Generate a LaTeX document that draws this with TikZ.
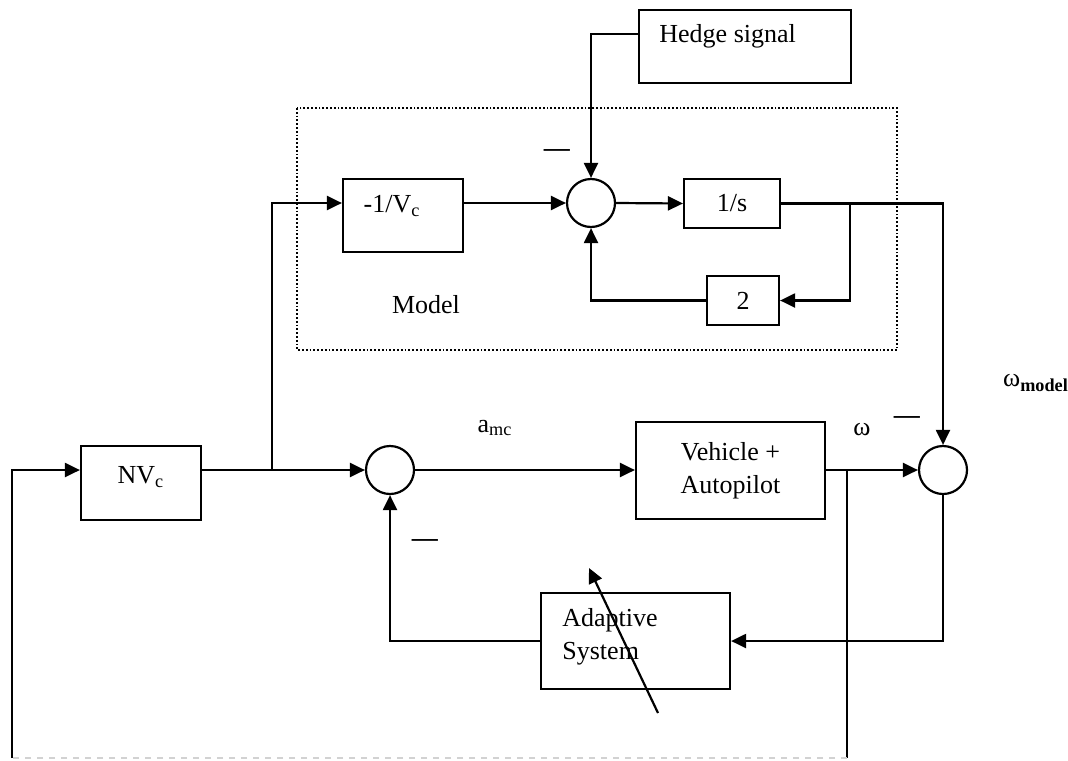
\documentclass[tikz,border=0pt]{standalone}
\usepackage{fontspec}
\setmainfont{Liberation Serif}
\usepackage{tikz}
\usetikzlibrary{arrows.meta,positioning}

\begin{document}
\begin{tikzpicture}[
  x=0.5pt, y=-0.5pt,
  every node/.style={font=\fontsize{13}{16.5}\selectfont},
  blk/.style={draw, line width=1.1pt, inner sep=0pt},
  sumnode/.style={draw, circle, line width=1.1pt, minimum size=24pt, inner sep=0pt},
  txt/.style={inner sep=0pt},
  arr/.style={-{Triangle[length=7.5pt, width=7pt]}, line width=1.1pt},
  wire/.style={line width=1.1pt}
]
\useasboundingbox (0,0) rectangle (1068,760);

% model block
\draw[densely dotted, line width=0.9pt] (297,108) rectangle (897,350);
\node[txt] (modellbl) at (426,305) {Model};

\node[blk, minimum width=106pt, minimum height=36.5pt] (hedge) at (745,46.5) {};
\node[txt, anchor=west] (hedgelbl) at (659,36) {Hedge signal};

\node[blk, minimum width=60pt, minimum height=36.5pt] (minv) at (403,215.5) {};
\node[txt] (minvlbl) at (392,206) {-1/V\textsubscript{c}};

\node[sumnode] (sum1) at (591,203) {};
\node[blk, minimum width=48pt, minimum height=24.5pt] (ints) at (732,203.5) {1/s};
\node[blk, minimum width=36pt, minimum height=24.5pt] (gain) at (743,300.5) {2};
\node[txt] (minus1) at (557,153) {\textbf{—}};

% main loop
\node[blk, minimum width=60pt, minimum height=37pt] (nvc) at (141,483) {};
\node[txt] (nvclbl) at (141,477) {NV\textsubscript{c}};

\node[sumnode] (sum2) at (390,470) {};
\node[txt] (amc) at (495,428) {a\textsubscript{mc}};
\node[txt] (minus2) at (425,543) {\textbf{—}};

\node[blk, minimum width=94.5pt, minimum height=48.5pt, align=center] (veh) at (730.5,470.5) {Vehicle +\\Autopilot};
\node[txt] (omega) at (862,430) {ω};
\node[txt] (minus3) at (907,420) {\textbf{—}};

\node[sumnode] (sum3) at (943,470) {};
\node[txt] (omegam) at (1036,383) {ω\textsubscript{\textbf{model}}};

\node[blk, minimum width=94.5pt, minimum height=48pt] (adapt) at (635.5,641) {};
\node[txt, anchor=west, align=left] (adaptlbl) at (562,637) {Adaptive\\System};

\coordinate (split) at (272,470);
\coordinate (tap1) at (850,203);
\coordinate (tap2) at (847,470);
\coordinate (corner) at (12,758);
\coordinate (tune0) at (658,713);
\coordinate (tune1) at (589,568);

% connectors
\draw[arr] ([yshift=6.25pt]hedge.west) -| (sum1.north);
\draw[arr] (split) |- (minv.west |- sum1);
\draw[arr] (minv.east |- sum1) -- (sum1.west);
\draw[arr] (sum1.east) -- (ints.west);
\draw[arr] (ints.east) -| (sum3.north);
\draw[arr] (tap1) |- (gain.east);
\draw[arr] (gain.west) -| (sum1.south);

\draw[arr] (nvc.east |- split) -- (sum2.west);
\draw[arr] (sum2.east) -- (veh.west |- sum2);
\draw[arr] (veh.east |- sum3) -- (sum3.west);
\draw[arr] (sum3.south) |- (adapt.east);
\draw[arr] (adapt.west) -| (sum2.south);
\draw[wire] (tap2) -- (tap2 |- corner);
\draw[gray!35, dashed, line width=0.8pt] (tap2 |- corner) -- (corner);
\draw[arr] (corner) |- (nvc.west |- split);
\draw[arr] (tune0) -- (tune1);

\end{tikzpicture}
\end{document}
